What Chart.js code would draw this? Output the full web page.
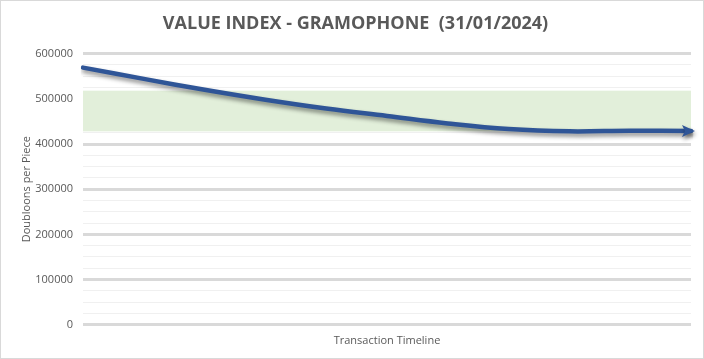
<!DOCTYPE html>
<html>
<head>
<meta charset="utf-8">
<script src="https://cdn.jsdelivr.net/npm/chart.js@4/dist/chart.umd.min.js"></script>
<style>
    html, body { margin: 0; padding: 0; background: #fff; }
    #wrap { width: 702px; height: 357px; border: 1px solid #d9d9d9; }
</style>
</head>
<body>
<div id="wrap"><canvas id="valueChart" width="702" height="357"></canvas></div>
<script>
// Dữ liệu
const timeline = ['P1', 'P2', 'P3', 'P4', 'P5', 'P6', 'P7', 'P8', 'P9', 'P10', 'P11'];
const pricePerPiece = [569000, 544000, 520000, 498000, 478500, 462000, 445500, 433000, 428000, 429500, 429000];
const bandRange = [428000, 518000];
const yTicks = [0, 100000, 200000, 300000, 400000, 500000, 600000];

const textColor = '#595959';

// vùng xanh phía sau đường
const bandPlugin = {
    id: 'band',
    beforeDatasetsDraw(chart) {
        const { ctx, chartArea, scales } = chart;
        const top = scales.y.getPixelForValue(bandRange[1]);
        const bottom = scales.y.getPixelForValue(bandRange[0]);
        ctx.save();
        ctx.fillStyle = '#e2efda';
        ctx.fillRect(chartArea.left, top, chartArea.right - chartArea.left, bottom - top);
        ctx.restore();
    }
};

// bóng đổ + mũi tên cuối đường
const lineStylePlugin = {
    id: 'lineStyle',
    beforeDatasetDraw(chart) {
        const ctx = chart.ctx;
        ctx.save();
        ctx.shadowColor = 'rgba(0,0,0,0.45)';
        ctx.shadowBlur = 4;
        ctx.shadowOffsetX = 1;
        ctx.shadowOffsetY = 3;
    },
    afterDatasetDraw(chart) {
        const ctx = chart.ctx;
        const pts = chart.getDatasetMeta(0).data;
        const last = pts[pts.length - 1];
        const prev = pts[pts.length - 2];
        const ang = Math.atan2(last.y - prev.y, last.x - prev.x) * 0.3;
        ctx.translate(last.x, last.y);
        ctx.rotate(ang);
        ctx.fillStyle = '#2f5597';
        ctx.beginPath();
        ctx.moveTo(4, 0);
        ctx.lineTo(-9, -6);
        ctx.lineTo(-6, 0);
        ctx.lineTo(-9, 6);
        ctx.closePath();
        ctx.fill();
        ctx.restore();
    }
};

new Chart(document.getElementById('valueChart'), {
    type: 'line',
    data: {
        labels: timeline,
        datasets: [{
            data: pricePerPiece,
            borderColor: '#2f5597',
            borderWidth: 4.5,
            borderCapStyle: 'round',
            tension: 0.4,
            pointRadius: 0,
            fill: false
        }]
    },
    options: {
        responsive: false,
        animation: false,
        layout: { padding: { left: 19, right: 12, top: 8, bottom: 0 } },
        plugins: {
            legend: { display: false },
            tooltip: { enabled: false },
            title: {
                display: true,
                text: 'VALUE INDEX - GRAMOPHONE  (31/01/2024)',
                color: textColor,
                font: { family: 'Open Sans', size: 18, weight: 'bold' },
                padding: { top: 4, bottom: 19 }
            }
        },
        scales: {
            x: {
                offset: false,
                grid: { display: false },
                border: { display: false },
                ticks: { display: false },
                title: {
                    display: true,
                    text: 'Transaction Timeline',
                    color: textColor,
                    font: { family: 'Open Sans', size: 11 },
                    padding: { top: 1, bottom: 11 }
                }
            },
            y: {
                min: 0,
                max: 600000,
                border: { display: false },
                grid: {
                    drawTicks: false,
                    color: ctx => ctx.tick.value % 100000 === 0 ? '#d9d9d9' : '#f0f0f0',
                    lineWidth: ctx => ctx.tick.value % 100000 === 0 ? 3 : 1
                },
                ticks: {
                    stepSize: 25000,
                    autoSkip: false,
                    padding: 10,
                    color: textColor,
                    font: { family: 'Open Sans', size: 11 },
                    callback: v => yTicks.includes(v) ? v : ''
                },
                title: {
                    display: true,
                    text: 'Doubloons per Piece',
                    color: textColor,
                    font: { family: 'Open Sans', size: 11 },
                    padding: { top: 0, bottom: 4 }
                },
                afterFit: scale => { scale.width = 63; }
            }
        }
    },
    plugins: [bandPlugin, lineStylePlugin]
});
</script>
</body>
</html>
